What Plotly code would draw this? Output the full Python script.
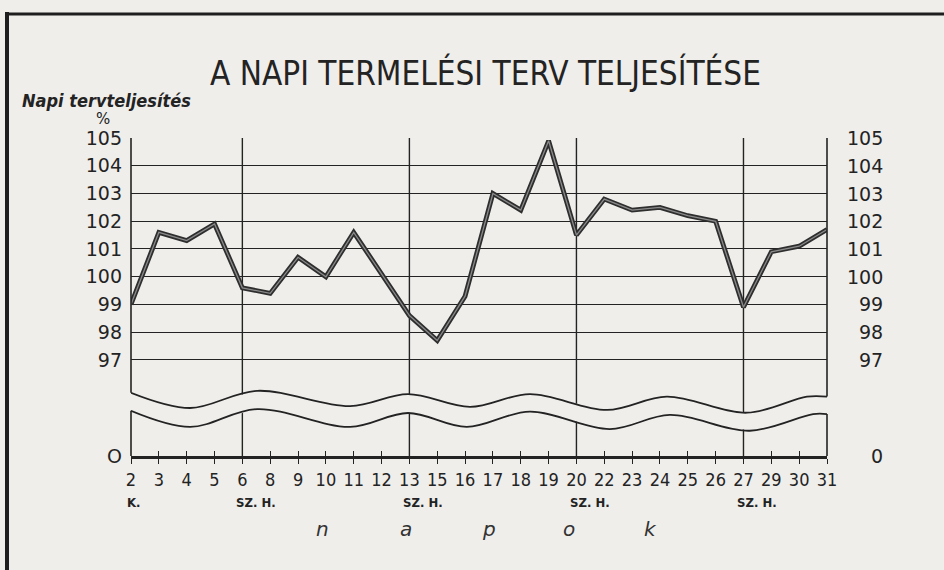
import plotly.graph_objects as go

# ---------------- data ----------------
days = ["2", "3", "4", "5", "6", "8", "9", "10", "11", "12", "13", "15", "16",
        "17", "18", "19", "20", "22", "23", "24", "25", "26", "27", "29", "30", "31"]
completion = [99.0, 101.6, 101.3, 101.9, 99.6, 99.4, 100.7, 100.0, 101.6, 100.1,
              98.6, 97.7, 99.3, 103.0, 102.4, 104.9, 101.5, 102.8, 102.4, 102.5,
              102.2, 102.0, 98.9, 100.9, 101.1, 101.7]
y_ticks = [97, 98, 99, 100, 101, 102, 103, 104, 105]
zero_pos = 93.54          # where the "0" of the broken axis sits
sunday_label = "K."
monday_days = ["6", "13", "20", "27"]
monday_label = "SZ. H."
bottom_word = ["n", "a", "p", "o", "k"]
title = "A NAPI TERMELÉSI TERV TELJESÍTÉSE"
y_title = "Napi tervteljesítés"

# axis-break wave decoration (index position, axis units)
break_x_upper = [0, 2.12, 4.53, 7.87, 9.95, 12.18, 14.33, 17.1, 19.25, 22.13, 24.28, 25]
break_upper = [95.82, 95.27, 95.89, 95.34, 95.77, 95.31, 95.77, 95.20, 95.68, 95.10, 95.68, 95.68]
break_x_lower = [0, 2.12, 4.53, 7.87, 9.95, 12.06, 14.33, 17.2, 19.36, 22.23, 24.5, 25]
break_lower = [95.17, 94.59, 95.23, 94.59, 95.09, 94.59, 95.14, 94.51, 95.02, 94.45, 95.05, 95.05]

# ---------------- style ----------------
BG = "#efeeeb"
INK = "#232323"
W, H = 944, 570
L, R, T, B = 131, 117, 138, 114
pw, ph = W - L - R, H - T - B


def px(xp):
    return (xp - L) / pw


def py(yp):
    return (H - B - yp) / ph


fig = go.Figure()

# mask between the two break waves (hides gridlines in the gap)
fig.add_trace(go.Scatter(
    x=break_x_upper + break_x_lower[::-1],
    y=break_upper + break_lower[::-1],
    xaxis="x2", yaxis="y", mode="lines", fill="toself",
    fillcolor=BG, line=dict(width=0, color=BG), hoverinfo="skip", showlegend=False))
for bx, by in ((break_x_upper, break_upper), (break_x_lower, break_lower)):
    fig.add_trace(go.Scatter(
        x=bx, y=by, xaxis="x2", yaxis="y", mode="lines",
        line=dict(color=INK, width=1.8, shape="spline"),
        hoverinfo="skip", showlegend=False))

# the data line (dark outline + lighter core)
fig.add_trace(go.Scatter(x=days, y=completion, mode="lines",
                         line=dict(color="#2e2e2e", width=4.8), showlegend=False))
fig.add_trace(go.Scatter(x=days, y=completion, mode="lines",
                         line=dict(color="#8a8a8a", width=1.3), showlegend=False))

shapes = []
# interior vertical gridlines at the Mondays
for d in monday_days:
    i = days.index(d)
    shapes.append(dict(type="line", xref="x2", yref="y", x0=i, x1=i,
                       y0=zero_pos, y1=105, layer="below",
                       line=dict(color=INK, width=1.4)))
# left/right borders broken at the waves
for xpos, up, lo in ((0, break_upper[0], break_lower[0]), (1, break_upper[-1], break_lower[-1])):
    shapes.append(dict(type="line", xref="paper", yref="y", x0=xpos, x1=xpos,
                       y0=up, y1=105, line=dict(color=INK, width=1.6)))
    shapes.append(dict(type="line", xref="paper", yref="y", x0=xpos, x1=xpos,
                       y0=zero_pos, y1=lo, line=dict(color=INK, width=1.6)))
# page frame of the scan
shapes.append(dict(type="line", xref="paper", yref="paper", x0=px(6), x1=px(W + 5),
                   y0=py(14), y1=py(14), line=dict(color="#1e1e1e", width=3)))
shapes.append(dict(type="line", xref="paper", yref="paper", x0=px(7), x1=px(7),
                   y0=py(12), y1=py(H + 5), line=dict(color="#1e1e1e", width=4)))

annotations = []
annotations.append(dict(text=title, xref="paper", yref="paper", x=px(485), y=py(73),
                        xanchor="center", yanchor="middle", showarrow=False,
                        font=dict(family="DejaVu Sans Condensed", size=33, color=INK)))
annotations.append(dict(text=f"<b><i>{y_title}</i></b>", xref="paper", yref="paper",
                        x=px(106), y=py(100), xanchor="center", yanchor="middle",
                        showarrow=False,
                        font=dict(family="DejaVu Sans Condensed", size=18, color=INK)))
annotations.append(dict(text="%", xref="paper", yref="paper", x=px(103), y=py(119),
                        xanchor="center", yanchor="middle", showarrow=False,
                        font=dict(family="DejaVu Sans", size=15, color=INK)))
# right-hand scale
for v, t in [(zero_pos, "0")] + [(v, str(v)) for v in y_ticks]:
    annotations.append(dict(text=t, xref="paper", yref="y", x=px(885), y=v,
                            xanchor="right", yanchor="middle", showarrow=False,
                            font=dict(family="DejaVu Sans", size=19, color=INK)))
# weekday marks (placed at the day's index on the linear overlay axis)
annotations.append(dict(text=f"<b>{sunday_label}</b>", xref="x2", yref="paper",
                        x=days.index(days[0]), y=py(502), xanchor="left", xshift=-6,
                        yanchor="middle", showarrow=False,
                        font=dict(family="DejaVu Sans Condensed", size=13, color=INK)))
for d in monday_days:
    annotations.append(dict(text=f"<b>{monday_label}</b>", xref="x2", yref="paper",
                            x=days.index(d), y=py(502), xanchor="left", xshift=-8,
                            yanchor="middle", showarrow=False,
                            font=dict(family="DejaVu Sans Condensed", size=13, color=INK)))
# "n a p o k"
for ch, xp in zip(bottom_word, [322, 406, 489, 569, 650]):
    annotations.append(dict(text=f"<i>{ch}</i>", xref="paper", yref="paper", x=px(xp),
                            y=py(529), xanchor="center", yanchor="middle", showarrow=False,
                            font=dict(family="DejaVu Sans", size=20, color="#333333")))

fig.update_layout(
    width=W, height=H,
    margin=dict(l=L, r=R, t=T, b=B, pad=0),
    paper_bgcolor=BG, plot_bgcolor=BG,
    showlegend=False,
    xaxis=dict(type="category", categoryorder="array", categoryarray=days,
               range=[0, len(days) - 1], showgrid=False, zeroline=False,
               showline=True, linecolor=INK, linewidth=2.5,
               ticks="outside", ticklen=5, tickwidth=1.3, tickcolor=INK,
               tickfont=dict(family="DejaVu Sans Condensed", size=18, color=INK),
               ticklabelstandoff=1),
    xaxis2=dict(overlaying="x", anchor="y", side="bottom", type="linear",
                range=[0, len(days) - 1], showgrid=False, zeroline=False,
                showline=False, showticklabels=False,
                tickmode="array", tickvals=list(range(len(days))),
                ticks="inside", ticklen=5, tickwidth=1.3, tickcolor=INK),
    yaxis=dict(range=[zero_pos, 105], tickmode="array",
               tickvals=[zero_pos] + y_ticks,
               ticktext=["O"] + [str(v) for v in y_ticks],
               showgrid=True, gridcolor=INK, gridwidth=1.4, zeroline=False,
               showline=False, ticks="", ticklabelstandoff=8,
               tickfont=dict(family="DejaVu Sans", size=19, color=INK)),
    shapes=shapes,
    annotations=annotations,
)

fig.write_html(
    "out.html",
    config={"displayModeBar": False},
    post_script="document.body.style.margin='0';document.body.style.background='#efeeeb';",
)
